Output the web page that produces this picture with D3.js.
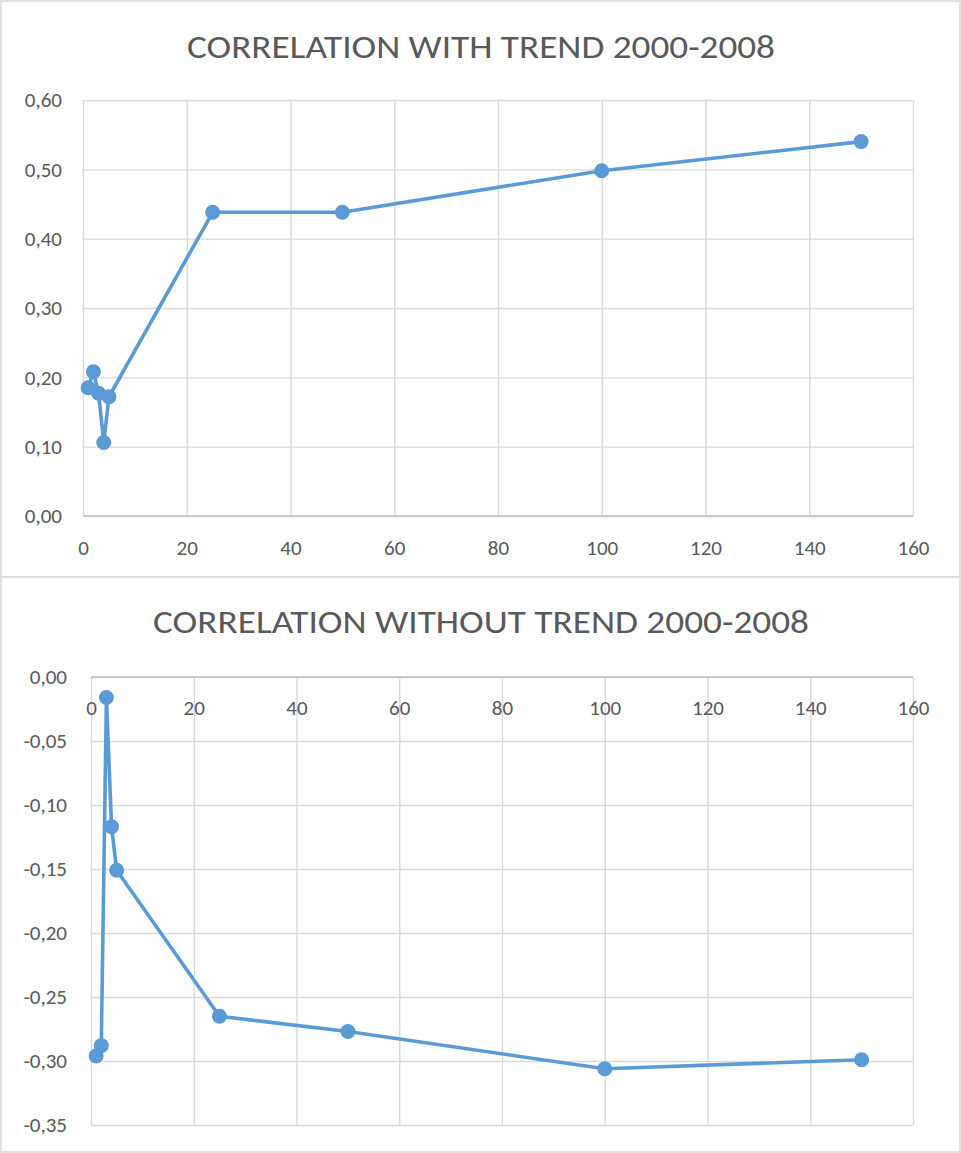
<!DOCTYPE html>
<html>
<head>
<meta charset="utf-8">
<script src="https://cdn.jsdelivr.net/npm/d3@7"></script>
<style>
  html, body { margin: 0; padding: 0; background: #fff; }
  svg { display: block; }
  text { font-family: Carlito, Lato, "Open Sans", sans-serif; fill: #595959; }
</style>
</head>
<body>
<svg id="chart" width="961" height="1153"></svg>
<script>
// ---- data ----
const xValues = [1, 2, 3, 4, 5, 25, 50, 100, 150];
const withTrend = [0.185, 0.208, 0.177, 0.106, 0.172, 0.438, 0.438, 0.498, 0.540];
const withoutTrend = [-0.296, -0.288, -0.016, -0.117, -0.151, -0.265, -0.277, -0.306, -0.299];
const xTicks = [0, 20, 40, 60, 80, 100, 120, 140, 160];
const yTicksTop = [0, 0.1, 0.2, 0.3, 0.4, 0.5, 0.6];
const yTicksBottom = [0, -0.05, -0.10, -0.15, -0.20, -0.25, -0.30, -0.35];
const titleTop = "CORRELATION WITH TREND 2000-2008";
const titleBottom = "CORRELATION WITHOUT TREND 2000-2008";

const locale = d3.formatLocale({decimal: ",", thousands: ".", grouping: [3], currency: ["", "€"], minus: "-"});
const fmt = locale.format(".2f");

const svg = d3.select("#chart");
const COLOR = "#5b9bd5";
const FONT = "Carlito, Lato, 'Open Sans', sans-serif";

function panel(cfg) {
  const g = svg.append("g");
  // chart area border
  g.append("rect").attr("x", cfg.box[0]).attr("y", cfg.box[1])
    .attr("width", cfg.box[2]).attr("height", cfg.box[3])
    .attr("fill", "#fff").attr("stroke", "#d9d9d9").attr("stroke-width", 1.5);

  const x = d3.scaleLinear().domain([0, 160]).range(cfg.xr);
  const y = d3.scaleLinear().domain(cfg.yd).range(cfg.yr);
  const w = cfg.xr[1] - cfg.xr[0];
  const h = cfg.yr[0] - cfg.yr[1];

  // vertical gridlines
  const gx = g.append("g").attr("transform", `translate(0,${cfg.yr[1]})`)
    .call(d3.axisBottom(x).tickValues(xTicks).tickSize(h).tickFormat(""));
  gx.select(".domain").remove();
  gx.selectAll("line").attr("stroke", "#d9d9d9").attr("stroke-width", 1.4);
  // horizontal gridlines
  const gy = g.append("g").attr("transform", `translate(${cfg.xr[0]},0)`)
    .call(d3.axisRight(y).tickValues(cfg.yt).tickSize(w).tickFormat(""));
  gy.select(".domain").remove();
  gy.selectAll("line").attr("stroke", "#d9d9d9").attr("stroke-width", 1.4);

  // horizontal axis line
  g.append("line").attr("x1", cfg.xr[0]).attr("x2", cfg.xr[1])
    .attr("y1", y(0)).attr("y2", y(0))
    .attr("stroke", "#bfbfbf").attr("stroke-width", 1.5);

  // y labels
  const ly = g.append("g").attr("transform", `translate(${cfg.xr[0]},0)`)
    .call(d3.axisLeft(y).tickValues(cfg.yt).tickSize(0).tickPadding(cfg.yPad).tickFormat(fmt));
  ly.select(".domain").remove();
  ly.selectAll("text").attr("font-size", 21).attr("fill", "#595959")
    .style("font-family", FONT);

  // x labels
  const lx = g.append("g").attr("transform", `translate(0,${y(0)})`)
    .call(d3.axisBottom(x).tickValues(xTicks).tickSize(0).tickPadding(cfg.xPad).tickFormat(d3.format("d")));
  lx.select(".domain").remove();
  lx.selectAll("text").attr("font-size", 21).attr("fill", "#595959")
    .style("font-family", FONT);

  // title
  g.append("text").attr("x", cfg.titleX).attr("y", cfg.titleY)
    .attr("text-anchor", "middle").attr("font-size", 33).attr("font-weight", 300)
    .attr("textLength", cfg.titleLen).attr("lengthAdjust", "spacingAndGlyphs")
    .text(cfg.title);

  const pts = xValues.map((v, i) => [v, cfg.values[i]]);
  g.append("path").datum(pts)
    .attr("fill", "none").attr("stroke", COLOR).attr("stroke-width", 3.6)
    .attr("stroke-linejoin", "round")
    .attr("d", d3.line().x(d => x(d[0])).y(d => y(d[1])));
  g.selectAll("circle.pt").data(pts).enter().append("circle")
    .attr("cx", d => x(d[0])).attr("cy", d => y(d[1])).attr("r", 7.5)
    .attr("fill", COLOR);
}

panel({
  box: [1, 1, 959, 576],
  xr: [83, 913], yd: [0, 0.6], yr: [516, 100], yt: yTicksTop,
  yPad: 21, xPad: 24,
  title: titleTop, titleX: 481, titleY: 58, titleLen: 588,
  values: withTrend
});
panel({
  box: [1, 577, 959, 575],
  xr: [91, 913], yd: [-0.35, 0], yr: [1125, 677], yt: yTicksBottom,
  yPad: 24, xPad: 23,
  title: titleBottom, titleX: 481, titleY: 633, titleLen: 656,
  values: withoutTrend
});
</script>
</body>
</html>
